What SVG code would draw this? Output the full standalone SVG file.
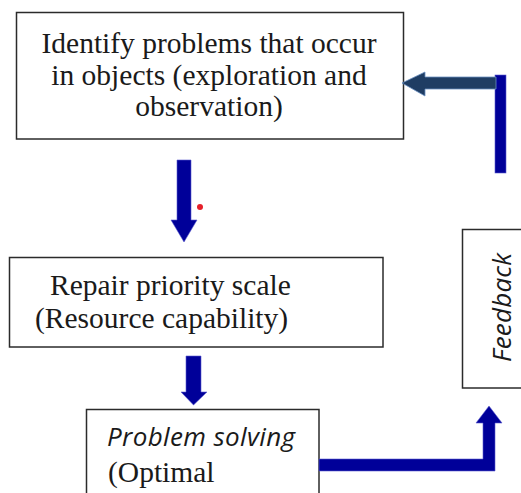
<svg xmlns="http://www.w3.org/2000/svg" width="521" height="493" viewBox="0 0 521 493">
<style>
.box{fill:#fff;stroke:#2b2b2b;stroke-width:1.5}
.serif{font-family:"Liberation Serif","Times New Roman",serif;font-size:29.5px;fill:#1a1a1a}
.sans{font-family:"Open Sans","Liberation Sans",sans-serif;font-style:italic;font-size:26px;fill:#1a1a1a}
.navy{fill:#000099;stroke:#5a5ad0;stroke-width:0.6}
.slate{fill:#1F3D63;stroke:#6a8fc0;stroke-width:0.8}
</style>
<rect width="521" height="493" fill="#fff"/>
<g id="node-identify">
<rect class="box" x="16.5" y="12.5" width="387" height="126.5"/>
<text class="serif" text-anchor="middle" x="209" y="53">Identify problems that occur</text>
<text class="serif" text-anchor="middle" x="209" y="85">in objects (exploration and</text>
<text class="serif" text-anchor="middle" x="209" y="116">observation)</text>
</g>
<g id="node-priority">
<rect class="box" x="9.5" y="257.5" width="373.5" height="89.5"/>
<text class="serif" x="50" y="295">Repair priority scale</text>
<text class="serif" x="35" y="328">(Resource capability)</text>
</g>
<g id="node-solving">
<rect class="box" x="86.5" y="409.5" width="232.5" height="90"/>
<text class="sans" x="107" y="446" textLength="188">Problem solving</text>
<text class="serif" x="108" y="482">(Optimal</text>
</g>
<g id="node-feedback">
<rect class="box" x="462.5" y="229.5" width="70" height="158.5"/>
<text class="sans" text-anchor="middle" textLength="109" transform="translate(511 307.5) rotate(-90)">Feedback</text>
</g>
<g id="connectors">
<polygon class="navy" points="177,160 191,160 191,220 197,220 184,242 171,220 177,220"/>
<circle cx="200" cy="207" r="3" fill="#e5202a"/>
<polygon class="navy" points="186,356 201,356 201,392 207,392 193.5,405 181,392 186,392"/>
<polygon class="navy" points="319,459 483,459 483,423 476,423 489,406 502,423 495,423 495,471 319,471"/>
<rect class="navy" x="495" y="75" width="11" height="98"/>
<polygon class="slate" points="496,77 496,89 425,89 425,96 402,83 425,72 425,77"/>
</g>
</svg>
